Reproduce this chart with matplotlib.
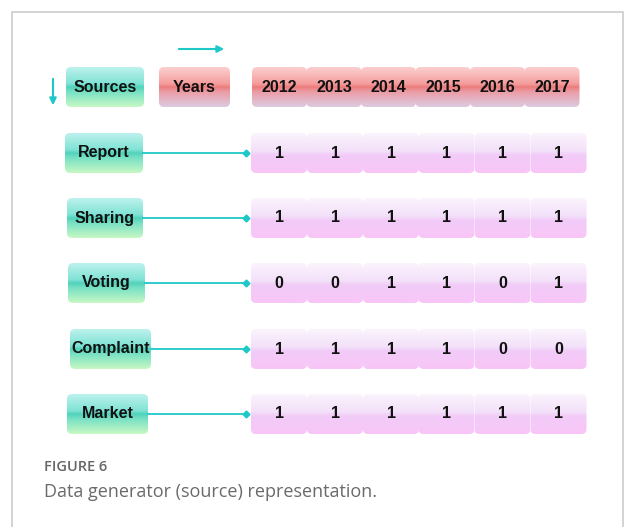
import numpy as np
import matplotlib.pyplot as plt
from matplotlib.patches import FancyBboxPatch, Rectangle
from matplotlib.colors import to_rgb

years = ['2012', '2013', '2014', '2015', '2016', '2017']
sources = ['Report', 'Sharing', 'Voting', 'Complaint', 'Market']
values = [
    [1, 1, 1, 1, 1, 1],
    [1, 1, 1, 1, 1, 1],
    [0, 0, 1, 1, 0, 1],
    [1, 1, 1, 1, 0, 0],
    [1, 1, 1, 1, 1, 1],
]

# layout (pixels)
label_x = [(65, 143), (67, 143), (68, 145), (70, 151), (67, 148)]
row_y = [133, 198, 263, 329, 394]
box_h = 40

green = [(0, '#bdf2ee'), (0.42, '#7fe2d4'), (0.5, '#50d3ba'), (0.6, '#72dfc4'), (1, '#c8f8c4')]
red = [(0, '#fcd0d0'), (0.42, '#f49c9c'), (0.5, '#ec7c7c'), (0.62, '#eb9ca6'), (1, '#dccbe0')]
purple = [(0, '#fbf4fd'), (0.45, '#f3e0f9'), (0.55, '#f2cbf7'), (1, '#f8c6f8')]
teal = '#1ec8c8'

fig = plt.figure(figsize=(6.25, 5.27), dpi=100)
ax = fig.add_axes([0, 0, 1, 1])


def grad_box(x0, y0, w, h, stops, r=5):
    n = 100
    pos = [s[0] for s in stops]
    cols = np.array([to_rgb(s[1]) for s in stops])
    t = np.linspace(0, 1, n)
    img = np.stack([np.interp(t, pos, cols[:, k]) for k in range(3)], axis=1)
    img = img[:, None, :]
    patch = FancyBboxPatch((x0, y0), w, h, boxstyle='round,pad=0,rounding_size=%d' % r,
                           fc='none', ec='none')
    ax.add_patch(patch)
    im = ax.imshow(img, extent=(x0, x0 + w, y0 + h, y0), origin='upper',
                   aspect='auto', interpolation='bilinear', zorder=2)
    im.set_clip_path(patch)


def label(x, y, s):
    ax.text(x, y, s, ha='center', va='center', fontsize=11.5, fontweight='bold',
            family=['Liberation Sans', 'DejaVu Sans'], color='#111111', zorder=5)


# frame
ax.add_patch(Rectangle((12, 12), 611, 540, fc='white', ec='#cccccc', lw=1.2, zorder=0))

# header
grad_box(66, 67, 78, box_h, green)
label(105, 88, 'Sources')
grad_box(159, 67, 71, box_h, red)
label(194.5, 88, 'Years')
yx = [252, 306.5, 361, 415.5, 470, 524.5]
for i, yr in enumerate(years):
    grad_box(yx[i], 67, 55, box_h, red)
    label(yx[i] + 27.5, 88, yr)

# arrows
ax.annotate('', xy=(227, 49), xytext=(176, 49),
            arrowprops=dict(arrowstyle='-|>', color=teal, lw=1.5, mutation_scale=10))
ax.annotate('', xy=(53, 108), xytext=(53, 76),
            arrowprops=dict(arrowstyle='-|>', color=teal, lw=1.5, mutation_scale=10))

# rows
vx = [251, 307, 363, 418.5, 474.5, 530.5]
for r, src in enumerate(sources):
    y0 = row_y[r]
    x0, x1 = label_x[r]
    grad_box(x0, y0, x1 - x0, box_h, green)
    label((x0 + x1) / 2, y0 + 20, src)
    ax.plot([x1, 246], [y0 + 20, y0 + 20], color=teal, lw=1.3, zorder=3)
    ax.plot([246], [y0 + 20], marker='D', ms=3.5, color=teal, zorder=3)
    for i, v in enumerate(values[r]):
        grad_box(vx[i], y0, 56, box_h, purple)
        label(vx[i] + 28, y0 + 20, str(v))

# caption
ax.text(44, 467, 'FIGURE 6', ha='left', va='center', fontsize=10.5,
        family='Open Sans', fontweight='semibold', color='#666666')
ax.text(44, 492, 'Data generator (source) representation.', ha='left', va='center',
        fontsize=13, family='Open Sans', color='#6a6a6a')

ax.set_xlim(0, 625)
ax.set_ylim(527, 0)
ax.axis('off')
fig.savefig('out.png', dpi=100)
